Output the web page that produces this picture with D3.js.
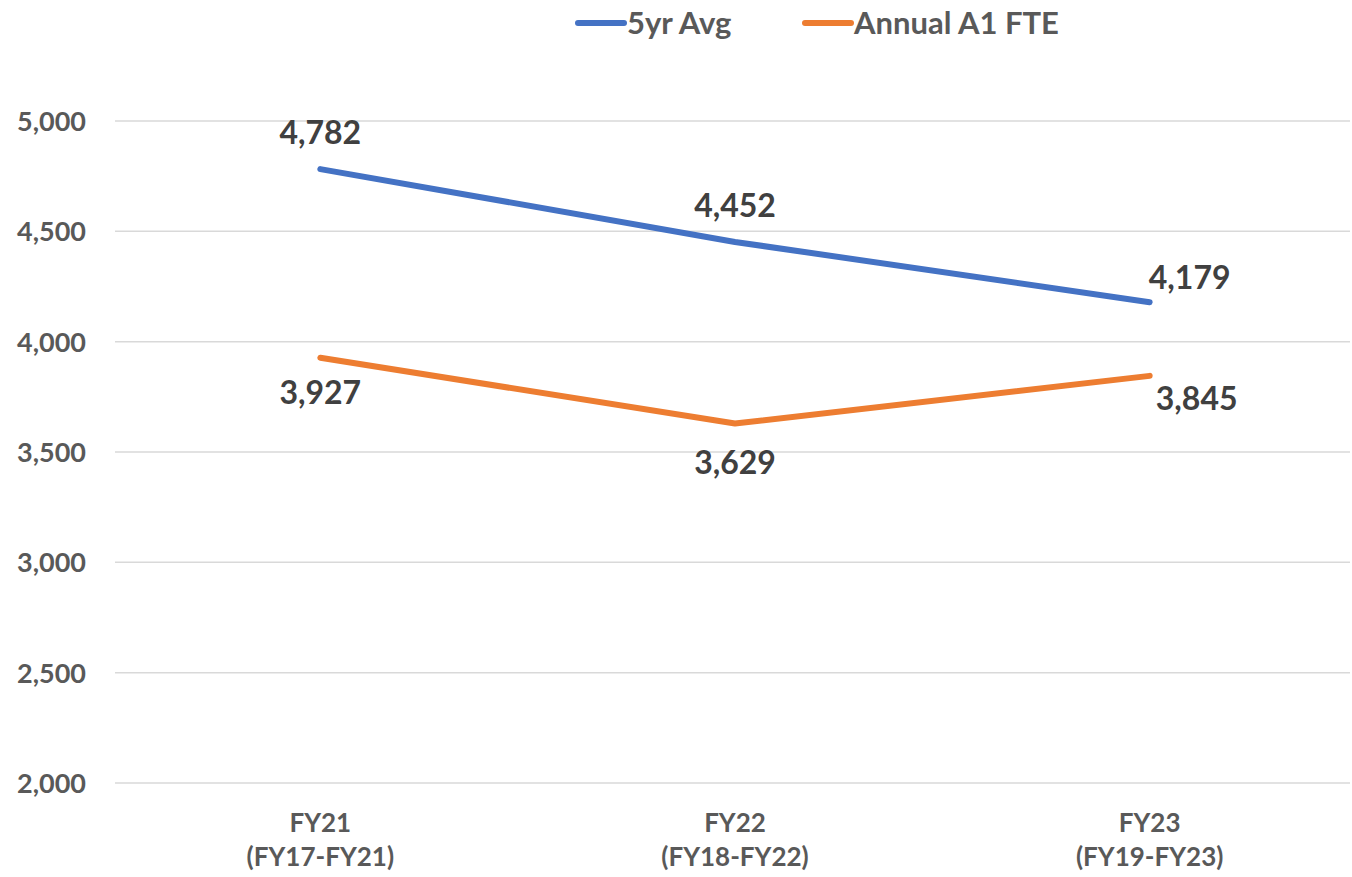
<!DOCTYPE html>
<html>
<head>
<meta charset="utf-8">
<script src="https://cdn.jsdelivr.net/npm/d3@7"></script>
<style>
	body { margin: 0; background: #fff; }
	text { font-family: Lato, "Open Sans", sans-serif; font-weight: bold; }
</style>
</head>
<body>
<div id="chart"></div>
<script>
// chart data
var categories = ["FY21\n(FY17-FY21)", "FY22\n(FY18-FY22)", "FY23\n(FY19-FY23)"];
var avg5yr = [4782, 4452, 4179];
var annualFte = [3927, 3629, 3845];
var seriesNames = ["5yr Avg", "Annual A1 FTE"];
var yTicks = [2000, 2500, 3000, 3500, 4000, 4500, 5000];

const W = 1352, H = 877,
	LEFT = 113, RIGHT = 1357, TOP = 121, BOTTOM = 783,
	BLUE = "#4472C4", ORANGE = "#ED7D31",
	TICK_COLOR = "#595959", LABEL_COLOR = "#404040", GRID = "#d9d9d9";

var svg = d3.select("#chart").append("svg")
	.attr("width", W)
	.attr("height", H);

var x = d3.scaleBand().domain(categories).range([LEFT, RIGHT]);
var y = d3.scaleLinear().domain([2000, 5000]).range([BOTTOM, TOP]);
var cx = function(c) { return x(c) + x.bandwidth() / 2; };

// gridlines
svg.append("g").selectAll("line")
	.data(yTicks)
	.enter().append("line")
	.attr("x1", 115).attr("x2", 1350)
	.attr("y1", function(d) { return y(d); })
	.attr("y2", function(d) { return y(d); })
	.attr("stroke", GRID)
	.attr("stroke-width", 1.5);

// y axis labels
var yAxis = d3.axisLeft(y).tickValues(yTicks).tickFormat(d3.format(",")).tickSize(0).tickPadding(0);
var yg = svg.append("g").attr("transform", "translate(86,0)").call(yAxis);
yg.select(".domain").remove();
yg.selectAll("text")
	.attr("fill", TICK_COLOR)
	.style("font-size", "27px")
	.attr("dy", "0.35em");

// x axis labels (two lines)
var xg = svg.append("g").selectAll("text")
	.data(categories)
	.enter().append("text")
	.attr("text-anchor", "middle")
	.attr("fill", TICK_COLOR)
	.style("font-size", "26px");
xg.each(function(c) {
	var t = d3.select(this);
	c.split("\n").forEach(function(line, i) {
		t.append("tspan")
			.attr("x", cx(c))
			.attr("y", 832 + i * 34)
			.text(line);
	});
});

// lines
var line = d3.line()
	.x(function(d, i) { return cx(categories[i]); })
	.y(function(d) { return y(d); });

[[avg5yr, BLUE], [annualFte, ORANGE]].forEach(function(s) {
	svg.append("path")
		.datum(s[0])
		.attr("d", line)
		.attr("fill", "none")
		.attr("stroke", s[1])
		.attr("stroke-width", 6)
		.attr("stroke-linecap", "round")
		.attr("stroke-linejoin", "round");
});

// data labels
var fmt = d3.format(",");
var blueOff = [[0, -25], [0, -25], [40, -13]];
var orangeOff = [[0, 46], [0, 50], [47, 34]];
function drawLabels(vals, offs) {
	svg.append("g").selectAll("text")
		.data(vals)
		.enter().append("text")
		.attr("x", function(d, i) { return cx(categories[i]) + offs[i][0]; })
		.attr("y", function(d, i) { return y(d) + offs[i][1]; })
		.attr("text-anchor", "middle")
		.attr("fill", LABEL_COLOR)
		.style("font-size", "32px")
		.text(function(d) { return fmt(d); });
}
drawLabels(avg5yr, blueOff);
drawLabels(annualFte, orangeOff);

// legend
var legend = svg.selectAll(".legend")
	.data([{ color: BLUE, label: seriesNames[0], x: 578 }, { color: ORANGE, label: seriesNames[1], x: 805 }])
	.enter().append("g")
	.attr("class", "legend")
	.attr("transform", function(d) { return "translate(" + d.x + ",0)"; });
legend.append("line")
	.attr("x1", 0).attr("x2", 46)
	.attr("y1", 23).attr("y2", 23)
	.attr("stroke", function(d) { return d.color; })
	.attr("stroke-width", 6)
	.attr("stroke-linecap", "round");
legend.append("text")
	.attr("x", 49)
	.attr("y", 34)
	.attr("fill", TICK_COLOR)
	.style("font-size", "31px")
	.text(function(d) { return d.label; });
</script>
</body>
</html>
